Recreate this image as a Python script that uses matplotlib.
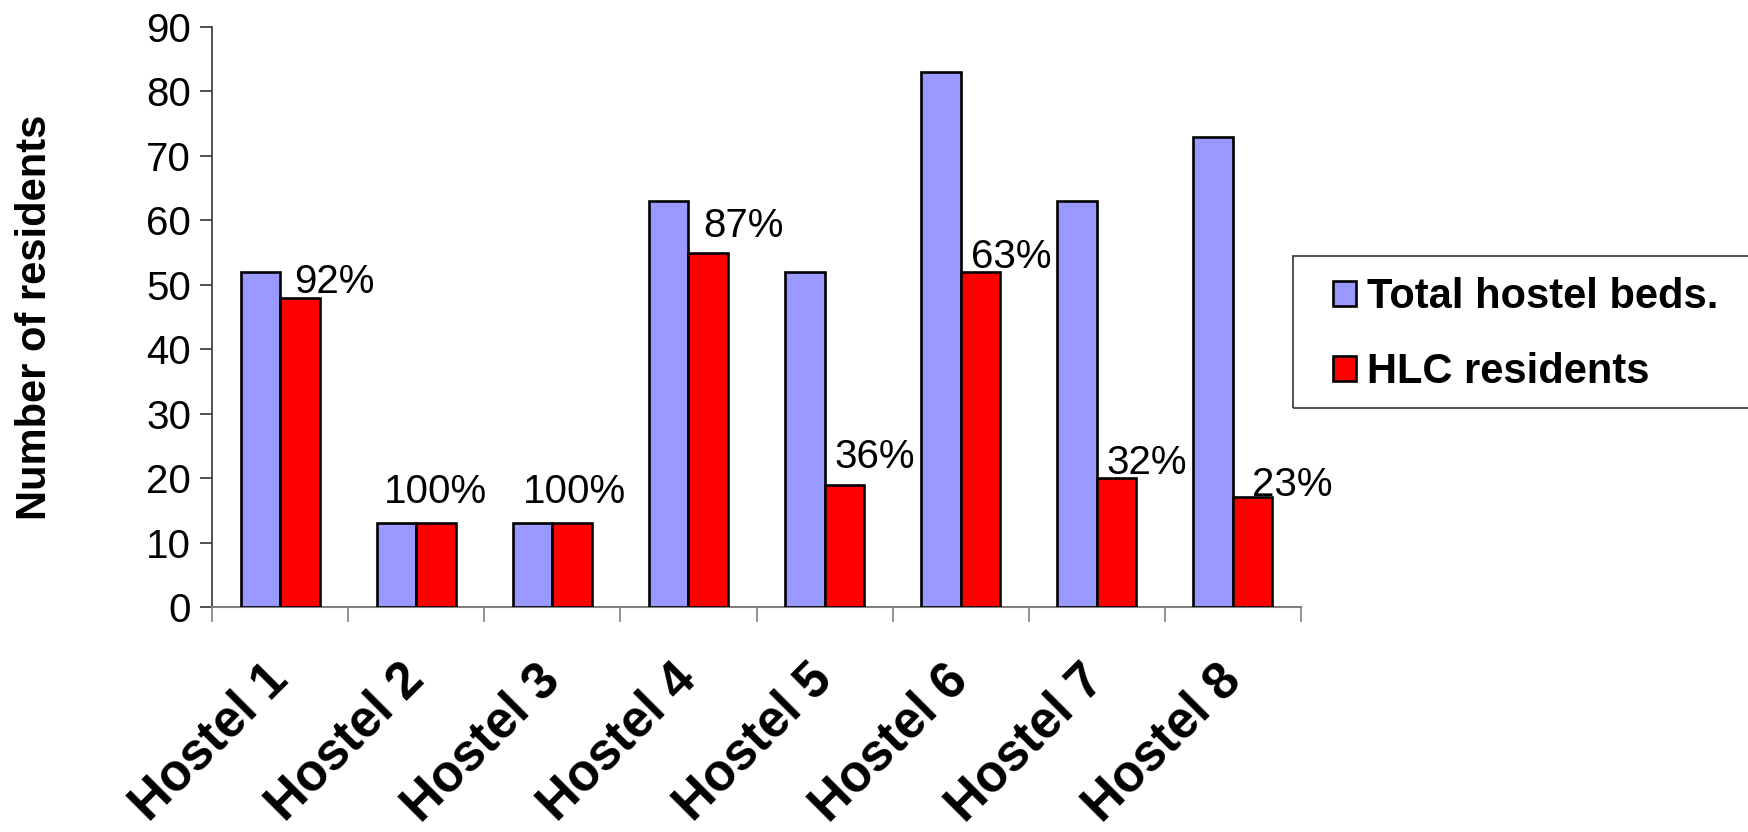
import matplotlib
matplotlib.use("Agg")
import matplotlib.pyplot as plt
from matplotlib.patches import Rectangle
import numpy as np

plt.rcParams['font.family'] = ['Liberation Sans', 'DejaVu Sans']

categories = ["Hostel 1", "Hostel 2", "Hostel 3", "Hostel 4",
              "Hostel 5", "Hostel 6", "Hostel 7", "Hostel 8"]
total_beds = [52, 13, 13, 63, 52, 83, 63, 73]
hlc_residents = [48, 13, 13, 55, 19, 52, 20, 17]
pct_labels = ["92%", "100%", "100%", "87%", "36%", "63%", "32%", "23%"]
series_names = ["Total hostel beds.", "HLC residents"]

# label offsets (pixels) relative to top-center of red bar
label_dx = [35, 0, 2, 35, 30, 31, 30, 40]
label_dy = [5, 20, 20, 16, 17, 4, 4, 1]

W, H = 1748, 832
fig = plt.figure(figsize=(W / 100, H / 100), dpi=100)
ax = fig.add_axes([212 / W, 1 - 607 / H, (1301 - 212) / W, (607 - 27) / H])

x = np.arange(len(categories)) + 0.5
bw = 0.29
b1 = ax.bar(x - bw / 2, total_beds, bw, color='#9999FF', edgecolor='black',
            linewidth=1.9, label=series_names[0], zorder=3)
b2 = ax.bar(x + bw / 2, hlc_residents, bw, color='#FF0000', edgecolor='black',
            linewidth=1.9, label=series_names[1], zorder=3)

for xi, v, lab, dx, dy in zip(x, hlc_residents, pct_labels, label_dx, label_dy):
    ax.annotate(lab, (xi + bw / 2, v), xytext=(dx, dy), textcoords='offset pixels',
                ha='center', va='baseline', fontsize=29, color='black')

ax.set_xlim(0, len(categories))
ax.set_ylim(0, 90)
ax.set_yticks(np.arange(0, 91, 10))
ax.tick_params(axis='y', labelsize=29, length=9, width=1.2, color='#333333', pad=6)

ax.set_xticks(x)
ax.set_xticklabels(categories, rotation=45, ha='right', va='center',
                   rotation_mode='anchor', fontsize=37, fontweight='bold')
ax.tick_params(axis='x', which='major', length=0, pad=47)
ax.set_xticks(np.arange(0, len(categories) + 1), minor=True)
ax.tick_params(axis='x', which='minor', length=11, width=1.2, color='#808080')

for s in ['top', 'right']:
    ax.spines[s].set_visible(False)
ax.spines['left'].set_color('#333333')
ax.spines['left'].set_linewidth(1.2)
ax.spines['bottom'].set_color('#808080')
ax.spines['bottom'].set_linewidth(1.5)

ax.set_ylabel("Number of residents", fontsize=30, fontweight='bold')
ax.yaxis.set_label_coords((55 - 212) / (1301 - 212), 0.5)

# legend frame (extends past the right edge of the image)
fig.add_artist(Rectangle((1293 / W, 1 - 408 / H), (1780 - 1293) / W, (408 - 256) / H,
                         transform=fig.transFigure, fill=False,
                         edgecolor='#333333', linewidth=1.2))
leg = fig.legend(handles=[b1, b2], loc='upper left',
                 bbox_to_anchor=(1333 / W, 1 - 277 / H),
                 prop={'size': 30, 'weight': 'bold'}, frameon=False,
                 handlelength=0.55, handleheight=0.55, handletextpad=0.26,
                 labelspacing=0.85, borderpad=0, borderaxespad=0)

fig.savefig("out.png", dpi=100)
